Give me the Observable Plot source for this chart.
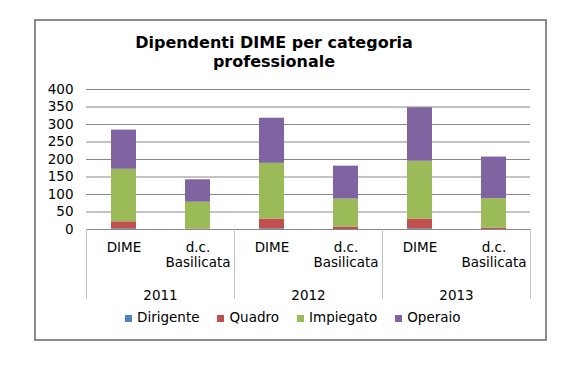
<!DOCTYPE html>
<html>
<head>
<meta charset="utf-8">
<script src="https://cdn.jsdelivr.net/npm/d3@7"></script>
<script src="https://cdn.jsdelivr.net/npm/@observablehq/plot@0.6"></script>
<style>
  html, body { margin: 0; padding: 0; background: #fff; }
  #wrap { position: relative; width: 578px; height: 376px; font-family: "DejaVu Sans", Verdana, sans-serif; color: #000; }
  #chart { position: absolute; left: 0; top: 0; }
  #title { position: absolute; left: 0; top: 33px; width: 548px; text-align: center; font-weight: bold; font-size: 16px; line-height: 19px; }
  #legend { position: absolute; left: 125px; top: 309px; display: flex; align-items: center; gap: 18px; font-size: 13.5px; line-height: 16px; }
  #legend .item { display: flex; align-items: center; }
  #legend .sw { width: 7px; height: 7px; margin-right: 5px; margin-top: 3px; }
  #border { position: absolute; left: 34px; top: 19px; width: 513px; height: 322px; box-sizing: border-box; border: 2px solid #8a8a8a; pointer-events: none; }
</style>
</head>
<body>
<div id="wrap">
  <div id="chart"></div>
  <div id="title">Dipendenti DIME per categoria<br>professionale</div>
  <div id="legend"></div>
  <div id="border"></div>
</div>
<script>
// Categories and groups
const years = ["2011", "2012", "2013"];
const groups = ["DIME", "d.c. Basilicata"];
const categories = ["Dirigente", "Quadro", "Impiegato", "Operaio"];
const colors = ["#4F81BD", "#C0504D", "#9BBB59", "#8064A2"];
const yTicks = [0, 50, 100, 150, 200, 250, 300, 350, 400];

// Series values, in order: 2011 DIME, 2011 d.c., 2012 DIME, 2012 d.c., 2013 DIME, 2013 d.c.
const dirigente = [2, 0, 2, 0, 2, 0];
const quadro    = [20, 1, 28, 7, 28, 4];
const impiegato = [150, 77, 159, 80, 165, 84];
const operaio   = [112, 64, 129, 94, 153, 119];

const series = [dirigente, quadro, impiegato, operaio];
const table = [];
years.forEach((yr, yi) => {
  groups.forEach((g, gi) => {
    const idx = yi * groups.length + gi;
    categories.forEach((c, ci) => {
      table.push({year: yr, group: g, category: c, value: series[ci][idx]});
    });
  });
});

const chart = Plot.plot({
  width: 578,
  height: 376,
  marginLeft: 85,
  marginRight: 48,
  marginTop: 89,
  marginBottom: 147,
  style: {fontFamily: "DejaVu Sans, Verdana, sans-serif", fontSize: "13.5px", color: "#000", background: "transparent", overflow: "visible"},
  fx: {domain: years, padding: 0, label: null},
  x: {domain: groups, paddingInner: 0.663, paddingOuter: 0.3315, label: null},
  y: {domain: [0, 400], label: null},
  color: {domain: categories, range: colors},
  marks: [
    Plot.gridY(yTicks, {stroke: "#888", strokeOpacity: 1}),
    Plot.barY(table, {fx: "year", x: "group", y: "value", fill: "category"}),
    Plot.axisY(yTicks, {tickSize: 0, tickPadding: 13, label: null, fill: "#000"}),
    Plot.axisX({tickSize: 0, tickPadding: 12, label: null, lineHeight: 1.1, fill: "#000", tickFormat: d => d.replace(" ", "\n")}),
    Plot.axisFx({anchor: "bottom", tickSize: 0, tickPadding: 61, label: null, fill: "#000"})
  ]
});
document.getElementById("chart").appendChild(chart);

// Group separators drawn with Plot's fx and y scales
const fx = chart.scale("fx");
const ys = chart.scale("y");
const y0 = ys.apply(0);
const sepX = years.map(yr => fx.apply(yr)).concat([fx.apply(years[years.length - 1]) + fx.bandwidth]);
d3.select(chart).append("g")
  .selectAll("line").data(sepX).join("line")
  .attr("x1", d => Math.round(d) + 0.5).attr("x2", d => Math.round(d) + 0.5)
  .attr("y1", y0).attr("y2", y0 + 69.5)
  .attr("stroke", "#c0c0c0").attr("stroke-width", 1);

// Legend
const legend = d3.select("#legend");
categories.forEach((c, i) => {
  const it = legend.append("div").attr("class", "item");
  it.append("div").attr("class", "sw").style("background", colors[i]);
  it.append("span").text(c);
});
</script>
</body>
</html>
